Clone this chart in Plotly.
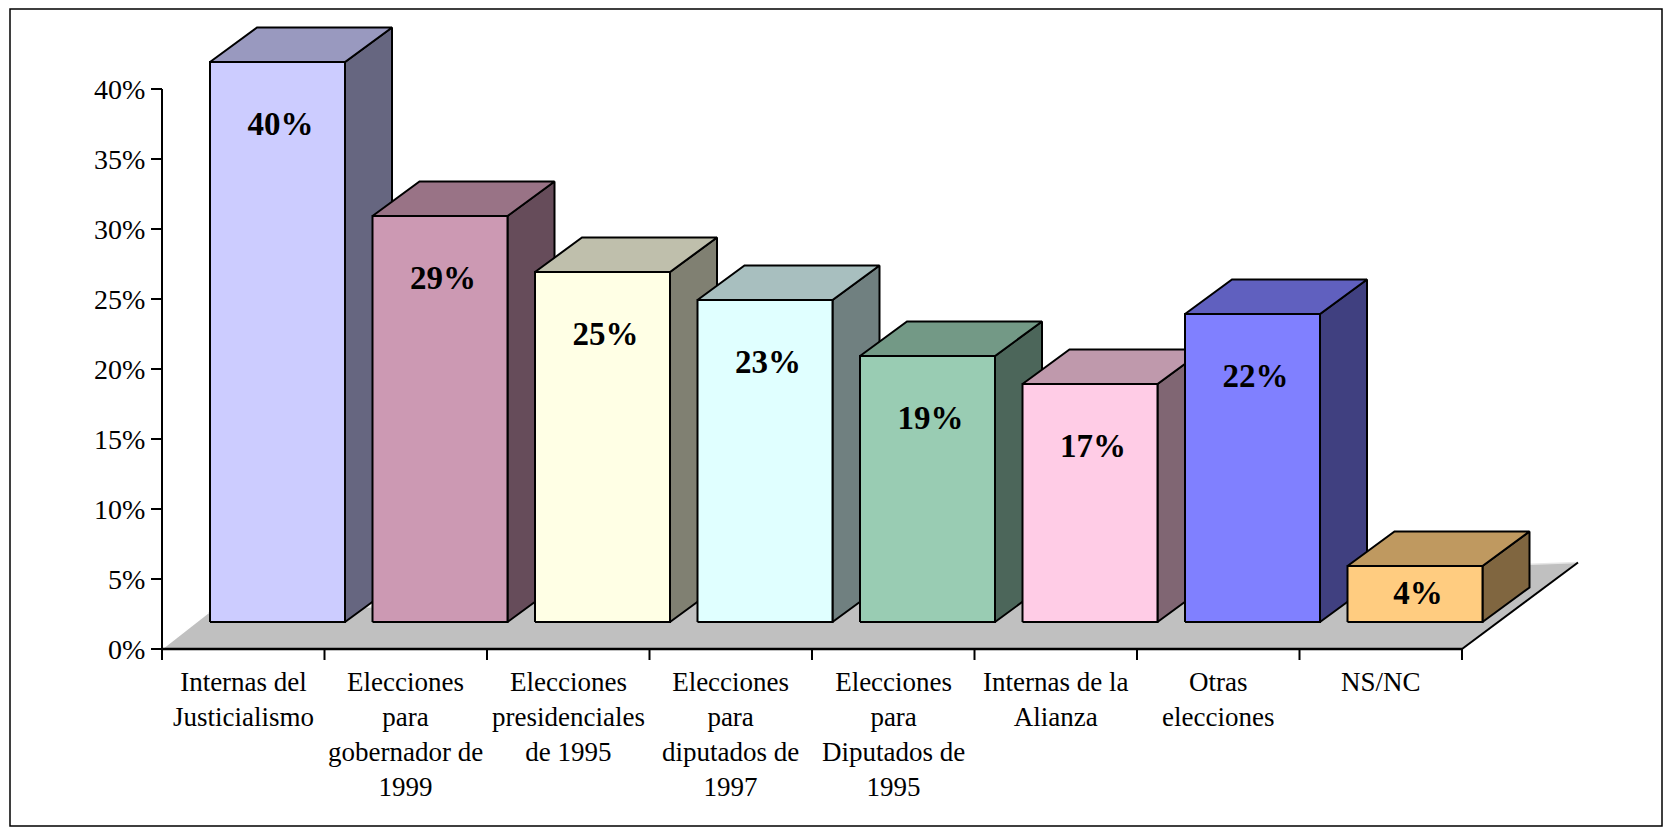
import plotly.graph_objects as go

# ---------------- data ----------------
categories = [
    "Internas del<br>Justicialismo",
    "Elecciones<br>para<br>gobernador de<br>1999",
    "Elecciones<br>presidenciales<br>de 1995",
    "Elecciones<br>para<br>diputados de<br>1997",
    "Elecciones<br>para<br>Diputados de<br>1995",
    "Internas de la<br>Alianza",
    "Otras<br>elecciones",
    "NS/NC",
]
values = [40, 29, 25, 23, 19, 17, 22, 4]
value_labels = ["40%", "29%", "25%", "23%", "19%", "17%", "22%", "4%"]
front_colors = ["#CCCCFF", "#CC99B3", "#FFFFE5", "#E0FFFF",
                "#99CCB3", "#FFCCE6", "#8080FF", "#FFCC80"]
y_ticks = [0, 5, 10, 15, 20, 25, 30, 35, 40]
y_tick_labels = ["0%", "5%", "10%", "15%", "20%", "25%", "30%", "35%", "40%"]

# ---------------- pixel layout ----------------
W, H = 1673, 833
CAT_PX = 162.5          # width of one category in px
PCT_PX = 14.0           # px per 1 %
AXIS_X_PX = 162         # x pixel of category 0 start (value axis)
AXIS_Y_PX = 649         # y pixel of 0 %
PLOT_L, PLOT_R = 100, 1622
PLOT_T, PLOT_B = 19, 670

x_min = (PLOT_L - AXIS_X_PX) / CAT_PX
x_max = (PLOT_R - AXIS_X_PX) / CAT_PX
y_min = (AXIS_Y_PX - PLOT_B) / PCT_PX
y_max = (AXIS_Y_PX - PLOT_T) / PCT_PX

# 3D oblique geometry (data units)
DX = 47 / CAT_PX        # depth shift in x
DY = 34.5 / PCT_PX      # depth shift in y
BAR_OFF = 48 / CAT_PX   # bar front left offset within category
BAR_W = 135 / CAT_PX    # bar front width
BASE = 27 / PCT_PX      # bar base raised above floor front edge
N = len(values)

def shade(hexcol, f):
    h = hexcol.lstrip("#")
    r, g, b = (int(h[i:i + 2], 16) for i in (0, 2, 4))
    return "#%02X%02X%02X" % (round(r * f), round(g * f), round(b * f))

fig = go.Figure()

def poly(xs, ys, fill, lw=2, lc="black"):
    fig.add_trace(go.Scatter(
        x=xs + [xs[0]], y=ys + [ys[0]], mode="lines", fill="toself",
        fillcolor=fill, line=dict(color=lc, width=lw),
        hoverinfo="skip", showlegend=False))

def seg(xs, ys, color, width):
    fig.add_trace(go.Scatter(x=xs, y=ys, mode="lines",
                             line=dict(color=color, width=width),
                             hoverinfo="skip", showlegend=False))

# floor
fl_bl = (46 / CAT_PX, 36 / PCT_PX)
fl_br = (N + 116 / CAT_PX, 86.5 / PCT_PX)
fig.add_trace(go.Scatter(
    x=[0, N, fl_br[0], fl_bl[0], 0], y=[0, 0, fl_br[1], fl_bl[1], 0],
    mode="lines", fill="toself", fillcolor="#C0C0C0",
    line=dict(width=0), hoverinfo="skip", showlegend=False))
seg([fl_bl[0], fl_br[0]], [fl_bl[1], fl_br[1]], "#E6E6E6", 1.5)
seg([0, fl_bl[0]], [0, fl_bl[1]], "#FFFFFF", 1.5)
seg([N, fl_br[0]], [0, fl_br[1]], "black", 2)

# bars
for i, (v, c) in enumerate(zip(values, front_colors)):
    x0 = i + BAR_OFF
    x1 = x0 + BAR_W
    y0 = BASE
    yt = BASE + v
    # side
    poly([x1, x1 + DX, x1 + DX, x1], [y0, y0 + DY, yt + DY, yt], shade(c, 0.5))
    # top
    poly([x0, x1, x1 + DX, x0 + DX], [yt, yt, yt + DY, yt + DY], shade(c, 0.75))
    # front
    poly([x0, x1, x1, x0], [y0, y0, yt, yt], c)

# data labels
lab_x = [i + BAR_OFF + BAR_W / 2 + 3 / CAT_PX for i in range(N)]
lab_y = [BASE + max(v - 4.6, v / 2 - 0.15) for v in values]
fig.add_trace(go.Scatter(
    x=lab_x, y=lab_y, mode="text", text=value_labels,
    textfont=dict(family="Liberation Serif", size=33, color="black", weight="bold"),
    hoverinfo="skip", showlegend=False, cliponaxis=False))

# axes lines & category ticks
seg([0, 0], [-11 / PCT_PX, y_ticks[-1]], "black", 2)
seg([0, N], [0, 0], "black", 2.5)
tx, ty = [], []
for k in range(1, N + 1):
    tx += [k, k, None]
    ty += [0, -11 / PCT_PX, None]
seg(tx, ty, "black", 2)

# category labels
for i, cat in enumerate(categories):
    fig.add_annotation(x=i + 0.5, y=0, xref="x", yref="y", text=cat,
                       showarrow=False, yanchor="top", xanchor="center",
                       yshift=-16, align="center",
                       font=dict(family="Liberation Serif", size=27, color="black"))

pw = PLOT_R - PLOT_L
ph = PLOT_B - PLOT_T
# outer border
fig.add_shape(type="rect", xref="paper", yref="paper",
              x0=(10 - PLOT_L) / pw, x1=(1662 - PLOT_L) / pw,
              y0=(PLOT_B - 826) / ph, y1=(PLOT_B - 9) / ph,
              line=dict(color="black", width=1.5), fillcolor="rgba(0,0,0,0)")

fig.update_layout(
    width=W, height=H,
    margin=dict(l=PLOT_L, r=W - PLOT_R, t=PLOT_T, b=H - PLOT_B),
    paper_bgcolor="white", plot_bgcolor="white",
    showlegend=False,
    xaxis=dict(range=[x_min, x_max], showgrid=False, zeroline=False,
               showline=False, showticklabels=False, ticks=""),
    yaxis=dict(range=[y_min, y_max], anchor="free",
               position=(AXIS_X_PX - PLOT_L) / pw,
               tickvals=y_ticks, ticktext=y_tick_labels,
               ticks="outside", ticklen=11, tickwidth=2, tickcolor="black",
               showgrid=False, zeroline=False, showline=False,
               tickfont=dict(family="Liberation Serif", size=28, color="black")),
)

fig.write_html("out.html", config={"displayModeBar": False},
               post_script="document.body.style.margin='0';document.body.style.overflow='hidden';")
